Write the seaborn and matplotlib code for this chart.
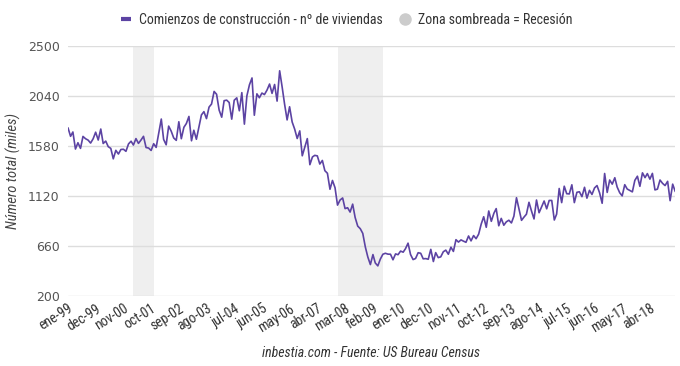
import matplotlib
matplotlib.use("Agg")
import matplotlib.pyplot as plt
from matplotlib.lines import Line2D
import seaborn as sns
import numpy as np
import pandas as pd

# Housing starts (thousands, SAAR), monthly from ene-1999 to feb-2019
starts_1999 = [1748, 1670, 1710, 1553, 1611, 1559, 1669, 1648, 1635, 1608, 1648, 1708]
starts_2000 = [1636, 1737, 1604, 1626, 1575, 1559, 1463, 1541, 1507, 1549, 1551, 1532]
starts_2001 = [1600, 1625, 1590, 1649, 1605, 1636, 1670, 1567, 1562, 1540, 1602, 1568]
starts_2002 = [1698, 1829, 1642, 1592, 1764, 1717, 1655, 1633, 1804, 1648, 1753, 1788]
starts_2003 = [1853, 1629, 1726, 1643, 1751, 1867, 1897, 1833, 1939, 1967, 2083, 2057]
starts_2004 = [1911, 1846, 1998, 2003, 1981, 1828, 2002, 2024, 1905, 2072, 1782, 2042]
starts_2005 = [2144, 2207, 1864, 2061, 2025, 2068, 2054, 2095, 2151, 2065, 2147, 1994]
starts_2006 = [2273, 2119, 1969, 1821, 1942, 1802, 1737, 1650, 1720, 1491, 1570, 1649]
starts_2007 = [1409, 1480, 1495, 1490, 1415, 1448, 1354, 1330, 1183, 1264, 1197, 1037]
starts_2008 = [1084, 1103, 1005, 1013, 973, 1046, 923, 844, 820, 777, 652, 560]
starts_2009 = [490, 582, 505, 478, 540, 585, 594, 586, 585, 534, 588, 581]
starts_2010 = [614, 604, 636, 687, 583, 536, 546, 599, 594, 543, 545, 539]
starts_2011 = [630, 518, 600, 554, 561, 608, 623, 585, 650, 611, 719, 697]
starts_2012 = [717, 705, 695, 753, 708, 757, 728, 770, 863, 930, 833, 983]
starts_2013 = [888, 962, 1005, 847, 915, 852, 883, 898, 873, 936, 1105, 1003]
starts_2014 = [897, 928, 953, 1063, 984, 910, 1084, 967, 1022, 1075, 1003, 1080]
starts_2015 = [1080, 900, 954, 1190, 1060, 1211, 1142, 1140, 1224, 1060, 1155, 1160]
starts_2016 = [1115, 1201, 1101, 1173, 1135, 1195, 1217, 1150, 1054, 1328, 1154, 1268]
starts_2017 = [1230, 1289, 1204, 1151, 1122, 1225, 1185, 1172, 1159, 1265, 1303, 1210]
starts_2018 = [1334, 1290, 1327, 1276, 1329, 1177, 1184, 1268, 1237, 1217, 1256, 1078]
starts_2019 = [1230, 1162]

# Recessions (shaded zones)
recessions = [("2001-03-01", "2001-11-01"), ("2007-12-01", "2009-06-01")]

tick_labels = ["ene-99", "dec-99", "nov-00", "oct-01", "sep-02", "ago-03",
               "jul-04", "jun-05", "may-06", "abr-07", "mar-08", "feb-09",
               "ene-10", "dec-10", "nov-11", "oct-12", "sep-13", "ago-14",
               "jul-15", "jun-16", "may-17", "abr-18"]
y_ticks = [200, 660, 1120, 1580, 2040, 2500]

values = (starts_1999 + starts_2000 + starts_2001 + starts_2002 + starts_2003
          + starts_2004 + starts_2005 + starts_2006 + starts_2007 + starts_2008
          + starts_2009 + starts_2010 + starts_2011 + starts_2012 + starts_2013
          + starts_2014 + starts_2015 + starts_2016 + starts_2017 + starts_2018
          + starts_2019)
dates = pd.date_range("1999-01-01", periods=len(values), freq="MS")
df = pd.DataFrame({"fecha": dates, "viviendas": values})

line_color = "#5c43a3"
narrow = ["Roboto Condensed", "Liberation Sans", "DejaVu Sans"]

sns.set_style("white")
fig = plt.figure(figsize=(6.8, 3.66), dpi=100)
ax = fig.add_axes([0.1, 0.191, 0.893, 0.683])

for start, end in recessions:
    ax.axvspan(pd.Timestamp(start), pd.Timestamp(end), color="#efefef", lw=0, zorder=0)

sns.lineplot(data=df, x="fecha", y="viviendas", ax=ax, color=line_color,
             linewidth=1.2, zorder=3)

ax.set_xlim(dates[0], dates[-1])
ax.set_ylim(200, 2500)
ax.set_yticks(y_ticks)
ax.set_yticklabels([str(v) for v in y_ticks], fontsize=9, color="#555555",
                   family="DejaVu Sans")
ax.yaxis.grid(True, color="#dddddd", linewidth=1)
ax.xaxis.grid(False)
for s in ax.spines.values():
    s.set_visible(False)
ax.tick_params(axis="both", length=0, pad=6)

tick_pos = dates[::11][:len(tick_labels)]
ax.set_xticks(tick_pos)
ax.set_xticklabels(tick_labels, rotation=32, ha="right", rotation_mode="anchor",
                   fontsize=10, color="#333333", family=narrow)
ax.tick_params(axis="x", pad=4)

ax.set_xlabel("")
ax.set_ylabel("Número total (miles)", fontsize=10.5, color="#444444",
              style="italic", family=narrow)
ax.yaxis.set_label_coords(-0.077, 0.5)

handles = [
    Line2D([], [], color=line_color, lw=3, solid_capstyle="butt"),
    Line2D([], [], color="#cccccc", marker="o", lw=0, markersize=8),
]
fig.legend(handles, ["Comienzos de construcción - nº de viviendas",
                     "Zona sombreada = Recesión"],
           loc="center", bbox_to_anchor=(0.51, 0.945), ncol=2, frameon=False,
           handlelength=0.7, handletextpad=0.6, columnspacing=1.2,
           prop={"family": narrow, "size": 10}, labelcolor="#333333")

fig.text(0.546, 0.035, "inbestia.com - Fuente: US Bureau Census", ha="center",
         va="center", fontsize=10, style="italic", color="#333333", family=narrow)

fig.savefig("out.png", dpi=100)
